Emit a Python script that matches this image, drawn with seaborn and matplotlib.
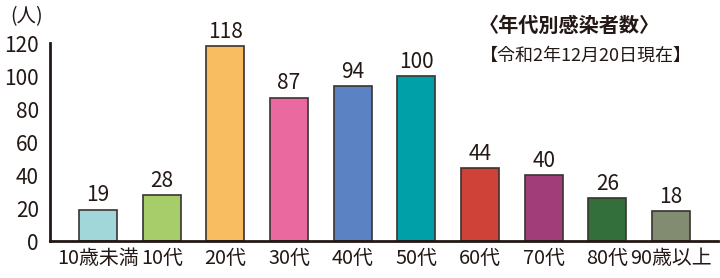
import seaborn as sns
import matplotlib
matplotlib.use('Agg')
import matplotlib.pyplot as plt
import pandas as pd

# age groups and infected counts
ages = ['10歳未満', '10代', '20代', '30代', '40代', '50代', '60代', '70代', '80代', '90歳以上']
counts = [19, 28, 118, 87, 94, 100, 44, 40, 26, 18]
colors = ['#a2d7d9', '#a7cd6a', '#f7bd60', '#ea6aa0', '#5b82c2',
          '#00a0a9', '#cf4237', '#a13d78', '#336f3a', '#818c70']
yticks = [0, 20, 40, 60, 80, 100, 120]

sns.set_style('white')
plt.rcParams['font.family'] = ['Noto Sans CJK JP', 'DejaVu Sans']
ink = '#231815'

df = pd.DataFrame({'age': ages, 'count': counts})
fig = plt.figure(figsize=(7.2, 2.78), dpi=100)
ax = fig.add_axes([0.0694, 0.133, 0.928, 0.712])
sns.barplot(data=df, x='age', y='count', hue='age', palette=colors, legend=False,
            width=0.6, edgecolor='#3a3330', linewidth=1.2, saturation=1, ax=ax)

for i, v in enumerate(counts):
    ax.text(i, v + 2.0, str(v), ha='center', va='bottom', fontsize=15, color=ink, clip_on=False)

ax.set_xlim(-0.755, 9.74)
ax.set_ylim(0, 120)
ax.set_yticks(yticks)
ax.set_xlabel('')
ax.set_ylabel('')
for s in ['top', 'right']:
    ax.spines[s].set_visible(False)
for s in ['left', 'bottom']:
    ax.spines[s].set_linewidth(2)
    ax.spines[s].set_color(ink)
ax.tick_params(axis='y', direction='in', length=11.5, width=1.5, color=ink,
               labelsize=15, labelcolor=ink, pad=8)
ax.tick_params(axis='x', length=0, labelsize=14.3, labelcolor=ink, pad=5)

fig.text(0.014, 0.94, '(人)', fontsize=14, color=ink, ha='left', va='center')
fig.text(0.79, 0.91, '〈年代別感染者数〉', fontsize=14.5, fontweight='bold', color=ink, ha='center', va='center')
fig.text(0.814, 0.80, '【令和2年12月20日現在】', fontsize=13, color=ink, ha='center', va='center')

fig.savefig('out.png', dpi=100)
